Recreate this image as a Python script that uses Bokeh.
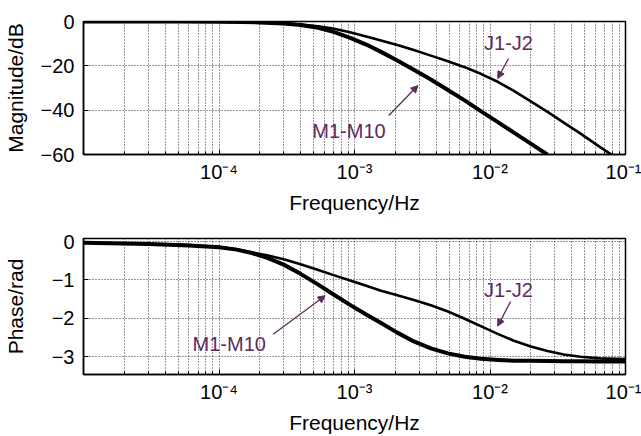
from bokeh.plotting import figure
from bokeh.layouts import column
from bokeh.models import FixedTicker, Range1d, Label, Arrow, NormalHead
from bokeh.embed import file_html
from bokeh.resources import INLINE

# ---------------- data ----------------
mag_freq = [1e-5, 5e-5, 1e-4, 1.5e-4, 2e-4, 3e-4, 4e-4, 5.4e-4, 7.1e-4, 9.4e-4,
            1.22e-3, 1.57e-3, 2.07e-3, 2.74e-3, 3.66e-3, 4.89e-3, 6.5e-3, 8.55e-3,
            1.15e-2, 1.5e-2, 2e-2, 2.66e-2, 3.5e-2, 4.66e-2, 6.5e-2, 8.55e-2]
mag_m = [0, 0, -0.1, -0.2, -0.4, -0.9, -1.6, -2.8, -4.8, -7.5,
         -10.4, -13.7, -17.6, -21.8, -26.2, -30.9, -35.6, -40.4,
         -45.5, -50.1, -55.1, -60.1]
mag_j = [0, 0, -0.1, -0.2, -0.4, -0.8, -1.4, -2.2, -3.3, -5.0,
         -6.8, -8.6, -10.6, -12.9, -15.4, -17.9, -20.6, -23.6,
         -27.3, -31.3, -36.0, -40.8, -45.6, -50.6, -56.7, -61.5]

phase_freq = [1e-5, 3e-5, 6e-5, 1e-4, 1.35e-4, 1.75e-4, 2.3e-4, 3e-4, 4e-4, 5.4e-4,
              7.1e-4, 9.4e-4, 1.22e-3, 1.57e-3, 2.07e-3, 2.74e-3, 3.66e-3, 4.89e-3,
              6.5e-3, 8.55e-3, 1.15e-2, 1.5e-2, 2e-2, 2.66e-2, 3.5e-2, 4.66e-2,
              6.5e-2, 1e-1]
phase_m = [-0.03, -0.06, -0.10, -0.15, -0.21, -0.30, -0.43, -0.60, -0.84, -1.12,
           -1.39, -1.66, -1.90, -2.12, -2.37, -2.60, -2.78, -2.91,
           -3.00, -3.05, -3.08, -3.10, -3.105, -3.11, -3.115, -3.115,
           -3.12, -3.12]
phase_j = [-0.03, -0.06, -0.09, -0.14, -0.20, -0.28, -0.36, -0.46, -0.59, -0.74,
           -0.88, -1.02, -1.15, -1.28, -1.40, -1.52, -1.66, -1.82,
           -2.01, -2.20, -2.41, -2.58, -2.73, -2.85, -2.94, -3.00,
           -3.04, -3.06]

x_major = [1e-4, 1e-3, 1e-2, 1e-1]
x_tick_labels = ["10\u207b\u2074", "10\u207b\u00b3", "10\u207b\u00b2", "10\u207b\u00b9"]
mag_ticks = [-60, -40, -20, 0]
phase_ticks = [-3, -2, -1, 0]
series_names = ["M1-M10", "J1-J2"]

FONT = "Liberation Sans"
PURPLE = "#5e2a5e"
GRID = "#2e2e2e"
x_minor = [m * 10.0 ** e for e in range(-5, -1) for m in range(2, 10)]


def make_fig(height, top, bottom, yr, yticks, ylabel, ystandoff):
    p = figure(width=641, height=height, x_axis_type="log",
               x_range=Range1d(1e-5, 1e-1), y_range=yr,
               output_backend="svg", toolbar_location=None,
               min_border_left=82, min_border_right=16,
               min_border_top=top, min_border_bottom=bottom)
    p.background_fill_color = "white"
    p.border_fill_color = "white"
    p.outline_line_color = "black"
    p.outline_line_width = 1.5
    p.xaxis.ticker = FixedTicker(ticks=x_major, minor_ticks=x_minor)
    p.xaxis.major_label_overrides = dict(zip(x_major, x_tick_labels))
    p.yaxis.ticker = FixedTicker(ticks=yticks)
    for ax in (p.xaxis, p.yaxis):
        ax.axis_line_color = "black"
        ax.axis_line_width = 1.5
        ax.major_tick_in = 5
        ax.major_tick_out = 0
        ax.minor_tick_in = 3
        ax.minor_tick_out = 0
        ax.major_tick_line_color = "black"
        ax.minor_tick_line_color = "black"
        ax.major_label_text_font = FONT
        ax.major_label_text_color = "black"
        ax.axis_label_text_font = FONT
        ax.axis_label_text_font_style = "normal"
        ax.axis_label_text_font_size = "21px"
        ax.axis_label_text_color = "black"
    p.xaxis.major_label_text_font_size = "20px"
    p.yaxis.major_label_text_font_size = "20px"
    p.xaxis.major_label_standoff = 6
    p.yaxis.major_label_standoff = 9
    p.xaxis.axis_label = "Frequency/Hz"
    p.xaxis.axis_label_standoff = 5
    p.yaxis.axis_label = ylabel
    p.yaxis.axis_label_standoff = ystandoff
    for g in (p.xgrid, p.ygrid):
        g.grid_line_color = GRID
        g.grid_line_dash = "1 2"
        g.grid_line_width = 1
        g.grid_line_alpha = 1.0
    p.xgrid.minor_grid_line_color = GRID
    p.xgrid.minor_grid_line_dash = "1 2"
    p.xgrid.minor_grid_line_alpha = 1.0
    return p


def add_label(p, text, x, y):
    p.add_layout(Label(x=x, y=y, text=text, text_font=FONT, text_font_size="20px",
                       text_color=PURPLE, text_align="center", text_baseline="middle"))


def add_arrow(p, x0, y0, x1, y1):
    p.add_layout(Arrow(end=NormalHead(size=7, fill_color=PURPLE, line_color=PURPLE),
                       x_start=x0, y_start=y0, x_end=x1, y_end=y1,
                       line_color=PURPLE, line_width=1.3))


# ---------------- magnitude ----------------
p1 = make_fig(218, 21, 64, Range1d(-60, 0), mag_ticks, "Magnitude/dB", 11)
p1.line(mag_freq, mag_j, line_color="black", line_width=2.6, line_join="round")
p1.line(mag_freq[:len(mag_m)], mag_m, line_color="black", line_width=4.0, line_join="round")
add_label(p1, series_names[0], 9.1e-4, -49.2)
add_arrow(p1, 1.79e-3, -42.4, 2.94e-3, -28.9)
add_label(p1, series_names[1], 1.37e-2, -9.9)
add_arrow(p1, 1.37e-2, -16.7, 1.14e-2, -25.7)

# ---------------- phase ----------------
p2 = make_fig(218, 20, 60, Range1d(-3.46, 0.08), phase_ticks, "Phase/rad", 22)
p2.line(phase_freq, phase_j, line_color="black", line_width=2.6, line_join="round")
p2.line(phase_freq, phase_m, line_color="black", line_width=4.0, line_join="round")
add_label(p2, series_names[0], 1.19e-4, -2.67)
add_arrow(p2, 2.51e-4, -2.41, 6.07e-4, -1.41)
add_label(p2, series_names[1], 1.37e-2, -1.26)
add_arrow(p2, 1.42e-2, -1.56, 1.14e-2, -2.2)

layout = column(p1, p2, spacing=0)
open("out.html", "w").write(file_html(layout, INLINE))
